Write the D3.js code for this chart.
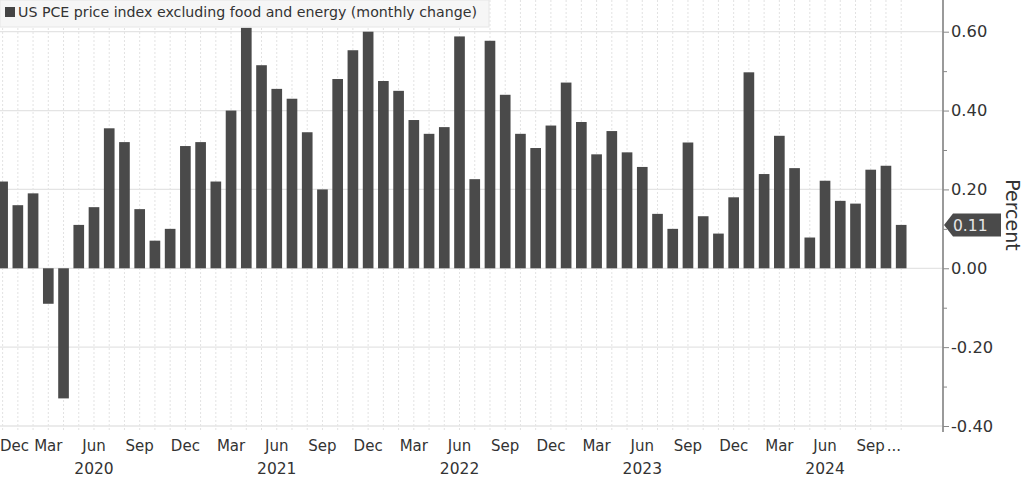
<!DOCTYPE html>
<html>
<head>
<meta charset="utf-8">
<script src="https://cdn.jsdelivr.net/npm/d3@7"></script>
<style>
  html, body { margin: 0; padding: 0; background: #fff; }
  svg { display: block; font-family: "DejaVu Sans", Verdana, sans-serif; }
</style>
</head>
<body>
<svg id="chart" width="1026" height="481"></svg>
<script>
// ---- data ----
const months = [
  "2019-12",
  "2020-01","2020-02","2020-03","2020-04","2020-05","2020-06","2020-07","2020-08","2020-09","2020-10","2020-11","2020-12",
  "2021-01","2021-02","2021-03","2021-04","2021-05","2021-06","2021-07","2021-08","2021-09","2021-10","2021-11","2021-12",
  "2022-01","2022-02","2022-03","2022-04","2022-05","2022-06","2022-07","2022-08","2022-09","2022-10","2022-11","2022-12",
  "2023-01","2023-02","2023-03","2023-04","2023-05","2023-06","2023-07","2023-08","2023-09","2023-10","2023-11","2023-12",
  "2024-01","2024-02","2024-03","2024-04","2024-05","2024-06","2024-07","2024-08","2024-09","2024-10","2024-11"
];
const values = [
  0.22,
  0.16, 0.19, -0.09, -0.33, 0.11, 0.155, 0.355, 0.32, 0.15, 0.07, 0.10, 0.31,
  0.32, 0.22, 0.40, 0.61, 0.515, 0.455, 0.43, 0.345, 0.20, 0.48, 0.553, 0.60,
  0.475, 0.45, 0.376, 0.341, 0.358, 0.588, 0.226, 0.577, 0.44, 0.341, 0.305, 0.362,
  0.471, 0.371, 0.289, 0.348, 0.294, 0.257, 0.138, 0.10, 0.319, 0.132, 0.088, 0.18,
  0.497, 0.239, 0.336, 0.254, 0.078, 0.222, 0.171, 0.164, 0.25, 0.26, 0.11
];
const monthTicks = ["2019-12","2020-03","2020-06","2020-09","2020-12","2021-03","2021-06","2021-09","2021-12",
  "2022-03","2022-06","2022-09","2022-12","2023-03","2023-06","2023-09","2023-12","2024-03","2024-06","2024-09"];
const monthNames = ["Jan","Feb","Mar","Apr","May","Jun","Jul","Aug","Sep","Oct","Nov","Dec"];
const yearTicks = ["2020-06","2021-06","2022-06","2023-06","2024-06"];
const yMajor = [0.6, 0.4, 0.2, 0.0, -0.2, -0.4];
const yMinor = [0.5, 0.3, 0.1, -0.1, -0.3];
const seriesName = "US PCE price index excluding food and energy (monthly change)";
const axisTitle = "Percent";
const lastValue = values[values.length - 1];

// ---- layout ----
const FONT = "'DejaVu Sans', Verdana, sans-serif";
const svg = d3.select("#chart");
const axisX = 943;
const plotBottom = 432;

const x = d3.scaleBand().domain(months).range([-5.0, 908.8]).paddingInner(0.3).paddingOuter(0.15);
const y = d3.scaleLinear().domain([-0.4, 0.6]).range([426, 31.7]);
const cx = m => x(m) + x.bandwidth() / 2;

// vertical grid
svg.append("g").selectAll("line").data(months).join("line")
  .attr("x1", d => cx(d)).attr("x2", d => cx(d))
  .attr("y1", 0).attr("y2", plotBottom)
  .attr("stroke", "#e2e2e2").attr("stroke-width", 1).attr("stroke-dasharray", "2,2");

// horizontal grid
svg.append("g").selectAll("line").data(yMajor).join("line")
  .attr("x1", 0).attr("x2", axisX)
  .attr("y1", d => y(d)).attr("y2", d => y(d))
  .attr("stroke", "#e4e4e4").attr("stroke-width", 1.3);

// bars
svg.append("g").selectAll("rect").data(values).join("rect")
  .attr("x", (d, i) => x(months[i]))
  .attr("width", x.bandwidth())
  .attr("y", d => y(Math.max(0, d)))
  .attr("height", d => Math.abs(y(d) - y(0)))
  .attr("fill", "#4a4a4a");

// legend box
svg.append("rect").attr("x", 0).attr("y", 0).attr("width", 489).attr("height", 27)
  .attr("fill", "#f6f6f6").attr("stroke", "#e6e6e6");
svg.append("rect").attr("x", 5).attr("y", 7).attr("width", 10).attr("height", 10).attr("fill", "#444");
svg.append("text").attr("x", 18).attr("y", 17).attr("font-size", 14.2).attr("fill", "#333")
  .attr("font-family", FONT).text(seriesName);

// right axis
svg.append("line").attr("x1", axisX).attr("x2", axisX).attr("y1", 0).attr("y2", plotBottom)
  .attr("stroke", "#9a9a9a").attr("stroke-width", 2);

const yAxis = d3.axisRight(y).tickValues(yMajor).tickSize(6).tickPadding(2)
  .tickFormat(d => d.toFixed(2));
const gy = svg.append("g").attr("transform", `translate(${axisX},0)`).call(yAxis);
gy.select(".domain").remove();
gy.selectAll(".tick line").attr("stroke", "#888");
gy.selectAll(".tick text").attr("font-size", 16.3).attr("fill", "#333").attr("font-family", FONT);

const gyMinor = svg.append("g").attr("transform", `translate(${axisX},0)`)
  .call(d3.axisRight(y).tickValues(yMinor).tickSize(4).tickFormat(""));
gyMinor.select(".domain").remove();
gyMinor.selectAll(".tick line").attr("stroke", "#888");

// axis title
svg.append("text")
  .attr("transform", `translate(1006,215) rotate(90)`)
  .attr("text-anchor", "middle").attr("font-size", 19).attr("fill", "#333")
  .attr("font-family", FONT).text(axisTitle);

// last value tag
const ty = y(lastValue);
const tag = svg.append("g");
tag.append("path")
  .attr("d", `M${axisX + 1},${ty} L${axisX + 10},${ty - 11.5} L${axisX + 58},${ty - 11.5} L${axisX + 58},${ty + 11.5} L${axisX + 10},${ty + 11.5} Z`)
  .attr("fill", "#4a4a4a");
tag.append("text").attr("x", axisX + 10).attr("y", ty + 6).attr("font-size", 15.5).attr("fill", "#e6e6e6")
  .attr("font-family", FONT).text(lastValue.toFixed(2));

// x axis labels
const xAxis = d3.axisBottom(x).tickValues(monthTicks).tickSize(0).tickPadding(0)
  .tickFormat(d => monthNames[+d.slice(5) - 1]);
const gx = svg.append("g").attr("transform", `translate(0,${plotBottom})`).call(xAxis);
gx.select(".domain").remove();
gx.selectAll(".tick text").attr("font-size", 15).attr("fill", "#333").attr("dy", 0).attr("y", 19)
  .attr("font-family", FONT);
// keep the first (edge) label inside the picture
gx.selectAll(".tick text").filter(d => d === months[0])
  .attr("text-anchor", "start").attr("x", -cx(months[0]));
svg.append("text").attr("x", cx("2024-09") + 16).attr("y", plotBottom + 19)
  .attr("font-size", 15).attr("fill", "#333").attr("font-family", FONT).text("...");

const gx2 = svg.append("g").attr("transform", `translate(0,${plotBottom})`)
  .call(d3.axisBottom(x).tickValues(yearTicks).tickSize(0).tickPadding(0).tickFormat(d => d.slice(0, 4)));
gx2.select(".domain").remove();
gx2.selectAll(".tick text").attr("font-size", 15.5).attr("fill", "#333").attr("dy", 0).attr("y", 42)
  .attr("font-family", FONT);

// watermark (cut off at bottom in the reference)
svg.append("text").attr("x", 897).attr("y", 497).attr("font-size", 22).attr("fill", "#9a9a9a")
  .attr("font-family", FONT).text("Bloomberg ■");
</script>
</body>
</html>
